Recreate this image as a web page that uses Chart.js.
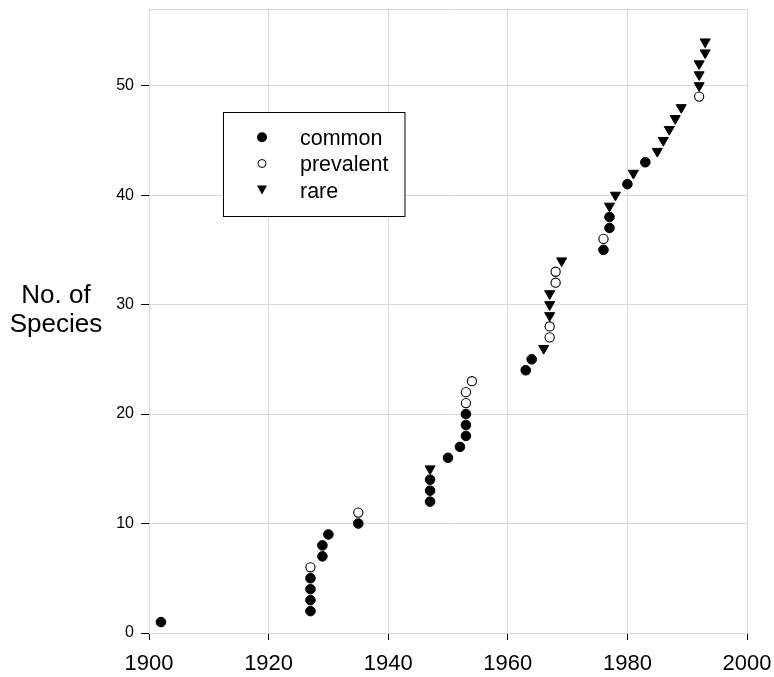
<!DOCTYPE html>
<html><head><meta charset="utf-8">
<script src="https://cdn.jsdelivr.net/npm/chart.js@4/dist/chart.umd.min.js"></script>
<style>html,body{margin:0;padding:0;background:#fff}canvas{display:block}</style>
</head><body>
<canvas id="c" width="774" height="677"></canvas>
<script>
// ---- data ----
const commonYears  = [1902,1927,1927,1927,1927,1929,1929,1930,1935,1947,1947,1947,1950,1952,1953,1953,1953,1963,1964,1976,1977,1977,1980,1983];
const commonCounts = [1,2,3,4,5,7,8,9,10,12,13,14,16,17,18,19,20,24,25,35,37,38,41,43];
const prevalentYears  = [1927,1935,1953,1953,1954,1967,1967,1968,1968,1976,1992];
const prevalentCounts = [6,11,21,22,23,27,28,32,33,36,49];
const rareYears  = [1947,1966,1967,1967,1967,1969,1977,1978,1981,1985,1986,1987,1988,1989,1992,1992,1992,1993,1993];
const rareCounts = [15,26,29,30,31,34,39,40,42,44,45,46,47,48,50,51,52,53,54];
const seriesNames = ['common','prevalent','rare'];
const xTickValues = [1900,1920,1940,1960,1980,2000];
const yTickValues = [0,10,20,30,40,50];
const yTitleLines = ['No. of','Species'];

const FONT = '"Liberation Sans", Arial, Helvetica, sans-serif';
const gridColor = '#d9d9d9';
Chart.defaults.font.family = FONT;
Chart.defaults.color = '#000';

const toPts = (xs, ys) => xs.map((x, i) => ({x: x, y: ys[i]}));

const decorPlugin = {
  id: 'decor',
  beforeDatasetsDraw(chart) {
    const {ctx, chartArea: a} = chart;
    ctx.save();
    ctx.strokeStyle = gridColor; ctx.lineWidth = 1;
    const t = Math.round(a.top) + 0.5;
    ctx.beginPath(); ctx.moveTo(a.left, t); ctx.lineTo(a.right + 1, t); ctx.stroke();
    ctx.restore();
  },
  afterDraw(chart) {
    const ctx = chart.ctx;
    ctx.save();
    // y title
    ctx.fillStyle = '#000';
    ctx.font = '26px ' + FONT;
    ctx.textAlign = 'center'; ctx.textBaseline = 'alphabetic';
    ctx.fillText(yTitleLines[0], 56, 302.5);
    ctx.fillText(yTitleLines[1], 56, 331.5);
    // legend box
    const bx = 223.5, by = 112.5, bw = 181.5, bh = 104;
    ctx.fillStyle = '#fff';
    ctx.fillRect(bx, by, bw, bh);
    ctx.strokeStyle = '#000'; ctx.lineWidth = 1;
    ctx.strokeRect(bx, by, bw, bh);
    const mx = 262, ys = [137.3, 163.5, 190];
    ctx.fillStyle = '#000';
    ctx.beginPath(); ctx.arc(mx, ys[0], 5, 0, Math.PI * 2); ctx.fill();
    ctx.strokeStyle = '#000'; ctx.lineWidth = 1;
    ctx.fillStyle = '#fff';
    ctx.beginPath(); ctx.arc(mx, ys[1], 4, 0, Math.PI * 2); ctx.fill(); ctx.stroke();
    ctx.fillStyle = '#000';
    ctx.beginPath(); ctx.moveTo(mx - 5, ys[2] - 4.5); ctx.lineTo(mx + 5, ys[2] - 4.5); ctx.lineTo(mx, ys[2] + 4.5); ctx.closePath(); ctx.fill();
    ctx.font = '21.5px ' + FONT;
    ctx.textAlign = 'left'; ctx.textBaseline = 'alphabetic';
    ctx.fillStyle = '#000';
    seriesNames.forEach((n, i) => ctx.fillText(n, 300, ys[i] + 7.5));
    ctx.restore();
  }
};

new Chart(document.getElementById('c'), {
  type: 'scatter',
  data: {
    datasets: [
      { label: seriesNames[2], data: toPts(rareYears, rareCounts), pointStyle: 'triangle', rotation: 180,
        pointRadius: 5.8, pointHoverRadius: 5.8, backgroundColor: '#000', borderColor: '#000', borderWidth: 1 },
      { label: seriesNames[0], data: toPts(commonYears, commonCounts), pointStyle: 'circle',
        pointRadius: 4.8, pointHoverRadius: 4.8, backgroundColor: '#000', borderColor: '#000', borderWidth: 1 },
      { label: seriesNames[1], data: toPts(prevalentYears, prevalentCounts), pointStyle: 'circle',
        pointRadius: 4.6, pointHoverRadius: 4.6, backgroundColor: '#fff', borderColor: '#000', borderWidth: 1.1 }
    ]
  },
  options: {
    responsive: false, animation: false, devicePixelRatio: 1,
    layout: { padding: { left: 0, right: 27, top: 9, bottom: 0 } },
    plugins: { legend: { display: false }, tooltip: { enabled: false } },
    scales: {
      x: {
        type: 'linear', position: 'bottom', min: 1900, max: 2000,
        afterBuildTicks: s => { s.ticks = xTickValues.map(v => ({value: v})); },
        afterFit: s => { s.height = 44; s.paddingLeft = 0; s.paddingRight = 0; s.paddingTop = 0; s.paddingBottom = 0; },
        grid: { color: gridColor, lineWidth: 1, drawTicks: true, tickLength: 7, tickColor: '#000', tickWidth: 1 },
        border: { color: gridColor, width: 1 },
        ticks: { font: { size: 22, family: FONT }, color: '#000', padding: 11, maxRotation: 0, autoSkip: false,
                 callback: v => String(v) }
      },
      y: {
        type: 'linear', position: 'left', min: 0, max: 57,
        afterBuildTicks: s => { s.ticks = yTickValues.map(v => ({value: v})); },
        afterFit: s => { s.width = 149; s.paddingLeft = 0; s.paddingRight = 0; s.paddingTop = 0; s.paddingBottom = 0; },
        grid: { color: gridColor, lineWidth: 1, drawTicks: true, tickLength: 8, tickColor: '#000', tickWidth: 1 },
        border: { color: gridColor, width: 1 },
        ticks: { font: { size: 16, family: FONT }, color: '#000', padding: 7, autoSkip: false,
                 callback: v => String(v) }
      }
    }
  },
  plugins: [decorPlugin]
});
</script>
</body></html>
